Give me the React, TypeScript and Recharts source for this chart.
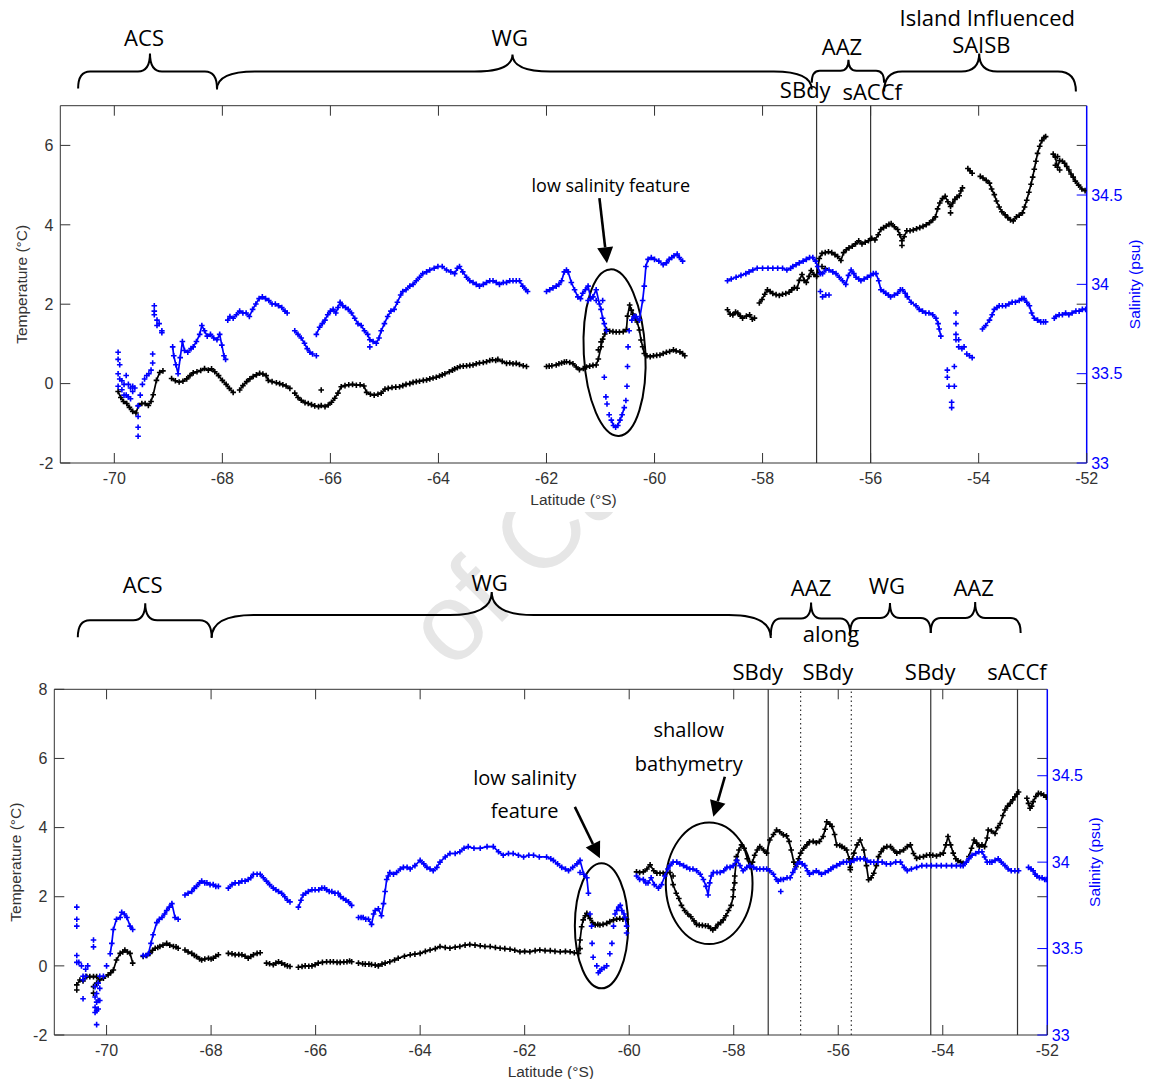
import { ScatterChart, Scatter, XAxis, YAxis, ReferenceLine, ReferenceArea, ReferenceDot } from 'recharts'

// [latitude, value] – a value array means several readings logged at that latitude
type Reading = [number, number | number[]]

type Brace = { from: number; to: number; tip: number; level: number; r: number; drop: number; rise: number }
type Note = { lat: number; t: number; text: string; size: number }
type Arrow = { from: [number, number]; to: [number, number] }
type Loop = { x1: number; x2: number; y1: number; y2: number; tilt: number }
type Front = { lat: number; dotted: boolean }

const BLUE = '#0000ff'
const INK = '#000000'
const AXIS = '#333333'
const AXIS_FONT = '"Liberation Sans", Arial, sans-serif'
const NOTE_FONT = '"Open Sans", sans-serif'

const latTicks = [-70, -68, -66, -64, -62, -60, -58, -56, -54, -52]
const upperTempTicks = [-2, 0, 2, 4, 6]
const lowerTempTicks = [-2, 0, 2, 4, 6, 8]
const salTicks = [33, 33.5, 34, 34.5]

// ---------- upper transect ----------
const upperTempRuns: Reading[][] = [
  [[-69.93, -0.2], [-69.88, -0.35], [-69.83, -0.45], [-69.77, -0.5], [-69.72, -0.6], [-69.66, -0.7], [-69.6, -0.74], [-69.55, -0.55], [-69.49, -0.5], [-69.43, -0.5], [-69.37, -0.55], [-69.32, -0.45], [-69.28, -0.28], [-69.22, 0.08], [-69.16, 0.28], [-69.1, 0.32]],
  [[-68.94, 0.13], [-68.87, 0.07], [-68.8, 0.04], [-68.73, 0.06], [-68.66, 0.12], [-68.6, 0.2], [-68.54, 0.27], [-68.47, 0.3], [-68.4, 0.33], [-68.33, 0.38], [-68.26, 0.34], [-68.2, 0.37], [-68.14, 0.3], [-68.07, 0.2], [-68.0, 0.08], [-67.93, -0.02], [-67.87, -0.12], [-67.8, -0.22]],
  [[-67.68, -0.16], [-67.62, -0.05], [-67.55, 0.05], [-67.49, 0.12], [-67.43, 0.18], [-67.37, 0.22], [-67.31, 0.26], [-67.25, 0.24], [-67.19, 0.2], [-67.15, 0.08], [-67.08, 0.05], [-67.0, 0.02], [-66.94, 0.0], [-66.88, -0.03], [-66.82, -0.06], [-66.75, -0.12]],
  [[-66.66, -0.24], [-66.6, -0.35], [-66.54, -0.42], [-66.47, -0.48], [-66.41, -0.5], [-66.35, -0.53], [-66.29, -0.56], [-66.22, -0.58], [-66.17, [-0.55, -0.16]], [-66.1, -0.58], [-66.04, -0.54], [-65.98, -0.47], [-65.92, -0.37], [-65.86, -0.24], [-65.8, -0.08], [-65.73, -0.05], [-65.66, -0.03], [-65.59, -0.02], [-65.52, -0.04], [-65.45, -0.03], [-65.38, -0.06], [-65.33, -0.22], [-65.26, -0.27], [-65.19, -0.29], [-65.12, -0.27], [-65.06, -0.24], [-64.99, -0.14], [-64.93, -0.12], [-64.86, -0.1], [-64.79, -0.09], [-64.72, -0.08], [-64.66, -0.05], [-64.6, -0.02], [-64.53, 0.0], [-64.47, 0.03], [-64.41, 0.05], [-64.35, 0.06], [-64.28, 0.08], [-64.22, 0.09], [-64.16, 0.12], [-64.1, 0.14], [-64.04, 0.16], [-63.98, 0.19], [-63.93, 0.22], [-63.88, 0.25], [-63.8, 0.3], [-63.74, 0.34], [-63.7, 0.37], [-63.65, 0.4], [-63.6, 0.43], [-63.54, 0.44], [-63.48, 0.45], [-63.42, 0.46], [-63.36, 0.47], [-63.3, 0.5], [-63.24, 0.52], [-63.17, 0.53], [-63.11, 0.55], [-63.05, 0.58], [-63.0, 0.6], [-62.94, 0.58], [-62.9, 0.61], [-62.82, 0.56], [-62.74, 0.51], [-62.68, 0.52], [-62.62, 0.5], [-62.56, 0.51], [-62.5, 0.48], [-62.43, 0.45], [-62.37, 0.43]],
  [[-62.0, 0.43], [-61.95, 0.44], [-61.9, 0.45], [-61.82, 0.47], [-61.77, 0.5], [-61.72, 0.52], [-61.67, 0.54], [-61.63, 0.55], [-61.57, 0.53], [-61.51, 0.5], [-61.45, 0.42], [-61.39, 0.35], [-61.32, 0.38], [-61.26, 0.42], [-61.2, 0.44], [-61.14, 0.46], [-61.08, 0.47], [-61.04, [0.62, 0.85]], [-60.99, [0.93, 1.05]], [-60.96, 1.12], [-60.92, 1.25], [-60.89, 1.36], [-60.83, 1.32], [-60.77, 1.31], [-60.71, 1.3], [-60.65, 1.3], [-60.58, 1.31], [-60.52, 1.36], [-60.5, 1.7], [-60.46, 1.98], [-60.43, 1.85], [-60.4, 1.75], [-60.36, 1.65], [-60.32, 1.55], [-60.28, 1.35], [-60.25, 1.1], [-60.22, 0.93], [-60.19, 0.76], [-60.14, 0.7], [-60.08, 0.68], [-60.02, 0.7], [-59.96, 0.71], [-59.9, 0.72], [-59.84, 0.76], [-59.78, 0.79], [-59.72, 0.81], [-59.65, 0.85], [-59.6, 0.82], [-59.53, 0.8], [-59.48, 0.76], [-59.44, 0.7]],
  [[-58.65, 1.86], [-58.6, 1.75], [-58.55, 1.73], [-58.5, 1.8], [-58.46, 1.78], [-58.41, 1.7], [-58.37, 1.65], [-58.3, 1.7], [-58.24, 1.73], [-58.19, 1.62], [-58.15, 1.65]],
  [[-58.06, 2.03], [-58.01, 2.12], [-57.96, 2.25], [-57.91, 2.36], [-57.86, 2.32], [-57.81, 2.27], [-57.75, 2.24], [-57.69, 2.22], [-57.63, 2.25], [-57.57, 2.27], [-57.51, 2.3], [-57.46, 2.36], [-57.41, 2.42], [-57.36, 2.4], [-57.32, 2.6], [-57.27, 2.75], [-57.23, 2.6], [-57.19, 2.55], [-57.14, 2.7], [-57.1, 2.85], [-57.05, 2.75], [-57.0, 2.7], [-56.95, [3.15, 2.8]], [-56.9, [3.28, 2.95]], [-56.84, [3.3, 2.9]], [-56.78, 3.32], [-56.72, 3.3], [-56.66, 3.25], [-56.61, 3.2], [-56.55, 3.1], [-56.5, 3.3], [-56.45, 3.37], [-56.4, 3.42], [-56.34, 3.46], [-56.28, 3.52], [-56.22, 3.6], [-56.16, 3.52], [-56.1, 3.56], [-56.04, 3.6], [-55.98, 3.66], [-55.92, 3.62], [-55.86, 3.75], [-55.81, 3.88], [-55.76, 3.93], [-55.71, 3.97], [-55.66, 4.01], [-55.62, 4.03], [-55.56, 3.95], [-55.5, 3.88], [-55.46, 3.75], [-55.42, [3.6, 3.48]], [-55.38, 3.7], [-55.33, 3.85], [-55.27, 3.85], [-55.21, 3.87], [-55.15, 3.9], [-55.09, 3.93], [-55.03, 3.96], [-54.97, 4.0], [-54.91, 4.05], [-54.85, 4.12], [-54.8, 4.2], [-54.76, 4.4], [-54.72, 4.55], [-54.67, 4.66], [-54.62, 4.72], [-54.57, 4.58], [-54.52, [4.46, 4.3]], [-54.48, 4.55], [-54.44, 4.64], [-54.4, 4.7], [-54.36, 4.73], [-54.33, 4.85], [-54.3, 4.93]],
  [[-54.2, 5.42], [-54.16, 5.36], [-54.12, 5.3]],
  [[-53.97, 5.22], [-53.92, 5.18], [-53.86, 5.12], [-53.8, 5.05], [-53.76, 4.9], [-53.71, 4.76], [-53.67, 4.6], [-53.62, 4.45], [-53.57, 4.33], [-53.51, 4.25], [-53.46, 4.18], [-53.41, 4.12], [-53.36, 4.1], [-53.3, 4.2], [-53.25, 4.24], [-53.19, 4.3], [-53.15, 4.45], [-53.11, 4.62], [-53.07, 4.82], [-53.03, 5.02], [-53.0, 5.2], [-52.97, 5.4], [-52.94, 5.6], [-52.91, 5.8], [-52.87, 5.98], [-52.83, 6.12], [-52.79, 6.2], [-52.76, 6.22]],
  [[-52.62, 5.78], [-52.58, [5.7, 5.5]], [-52.54, [5.45, 5.72]], [-52.5, [5.62, 5.38]], [-52.45, 5.6], [-52.41, 5.55], [-52.37, 5.47], [-52.33, 5.38], [-52.29, 5.28], [-52.25, 5.2], [-52.21, 5.1], [-52.15, 5.0], [-52.09, 4.9], [-52.03, 4.86]],
]

const upperSalRuns: Reading[][] = [
  [[-68.92, 33.65], [-68.9, 33.6], [-68.86, 33.55], [-68.82, 33.5], [-68.78, 33.59], [-68.74, 33.68], [-68.7, 33.63], [-68.64, 33.62], [-68.58, 33.64], [-68.54, 33.65], [-68.48, 33.68], [-68.42, 33.72], [-68.38, 33.77], [-68.33, 33.74], [-68.28, 33.71], [-68.22, 33.72], [-68.16, 33.7], [-68.1, 33.69], [-68.05, 33.72], [-68.01, 33.66], [-67.97, 33.6], [-67.94, 33.58]],
  [[-67.9, 33.8], [-67.86, 33.82], [-67.8, 33.81], [-67.74, 33.83], [-67.68, 33.85], [-67.62, 33.84], [-67.56, 33.84], [-67.5, 33.82], [-67.44, 33.86], [-67.38, 33.89], [-67.32, 33.92], [-67.26, 33.93], [-67.2, 33.92], [-67.14, 33.91], [-67.08, 33.89], [-67.02, 33.89], [-66.96, 33.88], [-66.9, 33.87], [-66.84, 33.85], [-66.8, 33.84]],
  [[-66.66, 33.74], [-66.6, 33.72], [-66.54, 33.7], [-66.48, 33.67], [-66.43, 33.64], [-66.38, 33.62], [-66.33, 33.61]],
  [[-66.26, 33.72], [-66.2, 33.76], [-66.15, 33.78], [-66.1, 33.8], [-66.05, 33.83], [-66.0, 33.85], [-65.95, 33.86], [-65.9, 33.84], [-65.86, 33.87], [-65.82, 33.9], [-65.77, 33.88], [-65.72, 33.87], [-65.67, 33.86], [-65.61, 33.84], [-65.55, 33.81], [-65.49, 33.78], [-65.43, 33.77], [-65.37, 33.74], [-65.31, 33.72], [-65.27, [33.69, 33.65]], [-65.21, 33.68], [-65.15, 33.67], [-65.1, 33.7], [-65.06, 33.74], [-65.0, 33.78], [-64.94, 33.82], [-64.88, 33.85], [-64.82, 33.86], [-64.76, 33.9], [-64.7, 33.94], [-64.66, 33.96], [-64.6, 33.97], [-64.53, 33.99], [-64.47, 34.0], [-64.41, 34.02], [-64.35, 34.04], [-64.29, 34.06], [-64.22, 34.07], [-64.16, 34.08], [-64.08, 34.09], [-64.01, 34.1], [-63.93, 34.1], [-63.85, 34.08], [-63.77, 34.07], [-63.7, 34.06], [-63.65, 34.09], [-63.61, 34.1], [-63.55, 34.07], [-63.48, 34.04], [-63.42, 34.02], [-63.36, 34.01], [-63.3, 34.0], [-63.24, 33.99], [-63.17, 34.0], [-63.11, 34.01], [-63.05, 34.02], [-62.99, 34.02], [-62.93, 34.01], [-62.87, 34.0], [-62.8, 34.01], [-62.74, 34.01], [-62.68, 34.02], [-62.62, 34.02], [-62.56, 34.02], [-62.5, 34.02], [-62.44, 33.99], [-62.38, 33.97], [-62.35, 33.96]],
  [[-62.0, 33.96], [-61.94, 33.97], [-61.88, 33.98], [-61.82, 33.99], [-61.77, 34.0], [-61.72, 34.02], [-61.67, 34.07], [-61.63, 34.08], [-61.6, 34.07], [-61.54, 34.01], [-61.48, 33.97], [-61.42, 33.93], [-61.37, 33.92], [-61.33, 33.95], [-61.28, 33.97], [-61.23, [33.99, 33.91]], [-61.18, 33.92], [-61.14, 33.93], [-61.08, [33.97, 33.91]], [-61.02, 33.89], [-60.99, 33.86], [-60.96, [33.81, 33.91]], [-60.93, 33.78], [-60.89, 33.74]],
  [[-60.8, 33.24], [-60.76, 33.21], [-60.72, 33.2], [-60.68, 33.21], [-60.64, 33.24], [-60.6, 33.27], [-60.56, 33.31]],
  [[-60.42, 33.8], [-60.38, 33.82], [-60.34, 33.82], [-60.28, 33.8], [-60.22, 33.91], [-60.19, 33.99], [-60.16, 34.1], [-60.12, 34.14], [-60.06, 34.15], [-60.0, 34.14], [-59.92, 34.13], [-59.84, 34.11], [-59.78, 34.12], [-59.73, 34.14], [-59.68, 34.15], [-59.64, 34.16], [-59.58, 34.17], [-59.54, 34.15], [-59.48, 34.13]],
  [[-58.65, 34.02], [-58.58, 34.03], [-58.49, 34.04], [-58.4, 34.05], [-58.31, 34.06], [-58.25, 34.07], [-58.18, 34.08], [-58.1, 34.09], [-58.0, 34.09], [-57.9, 34.09], [-57.81, 34.09], [-57.72, 34.09], [-57.63, 34.09], [-57.55, 34.08], [-57.48, 34.09], [-57.44, 34.1], [-57.38, 34.11], [-57.32, 34.12], [-57.25, 34.13], [-57.19, 34.14], [-57.13, 34.15], [-57.07, 34.15], [-57.02, 34.13], [-56.98, 34.1], [-56.93, [34.06, 33.96]], [-56.89, [34.06, 33.93]], [-56.83, [34.08, 33.94]], [-56.77, [34.08, 33.94]], [-56.7, 34.07], [-56.64, 34.06], [-56.58, 34.04], [-56.52, 34.02], [-56.46, 34.0], [-56.41, 34.05], [-56.36, 34.08], [-56.31, 34.06], [-56.27, 34.04], [-56.22, 34.03], [-56.18, 34.02], [-56.12, 34.03], [-56.06, 34.04], [-56.0, 34.05], [-55.95, 34.06], [-55.9, 34.06], [-55.85, 34.02], [-55.81, 33.97], [-55.76, 33.96], [-55.72, 33.95], [-55.67, 33.94], [-55.63, 33.93], [-55.56, 33.94], [-55.5, 33.95], [-55.45, 33.97], [-55.41, 33.97], [-55.36, 33.95], [-55.32, 33.93], [-55.25, 33.9], [-55.16, 33.88], [-55.1, 33.86], [-55.04, 33.85], [-54.98, 33.84], [-54.92, 33.84], [-54.85, 33.83], [-54.79, 33.81], [-54.75, 33.78], [-54.73, 33.75], [-54.7, 33.71]],
  [[-53.93, 33.75], [-53.87, 33.77], [-53.8, 33.8], [-53.75, 33.83], [-53.71, 33.86], [-53.66, 33.87], [-53.62, 33.88], [-53.56, 33.88], [-53.5, 33.88], [-53.44, 33.89], [-53.38, 33.9], [-53.32, 33.9], [-53.25, 33.91], [-53.2, 33.92], [-53.16, 33.92], [-53.11, 33.9], [-53.06, 33.88], [-53.02, 33.84], [-52.97, 33.81], [-52.91, 33.8], [-52.85, 33.79], [-52.8, 33.79], [-52.76, 33.79]],
  [[-52.6, 33.81], [-52.57, 33.82], [-52.51, 33.83], [-52.45, 33.83], [-52.39, 33.84], [-52.33, 33.83], [-52.27, 33.84], [-52.2, 33.85], [-52.14, 33.85], [-52.08, 33.86], [-52.02, 33.86]],
]

const upperSalDots: Reading[] = [
  [-69.93, [33.62, 33.58, 33.5, 33.43]], [-69.9, [33.55, 33.47]], [-69.86, [33.46, 33.41]], [-69.82, [33.44, 33.38]], [-69.78, [33.49, 33.38]], [-69.74, [33.44, 33.37]], [-69.7, [33.42, 33.36]], [-69.66, [33.43, 33.4]], [-69.62, 33.42], [-69.56, [33.32, 33.26, 33.2, 33.15]], [-69.52, 33.38], [-69.48, 33.44], [-69.44, 33.47], [-69.4, 33.49], [-69.36, 33.5], [-69.32, 33.52], [-69.29, [33.61, 33.56]], [-69.26, [33.88, 33.85, 33.83]], [-69.21, [33.8, 33.77]], [-69.17, 33.78], [-69.12, [33.74, 33.73]],
  [-66.26, 33.6],
  [-60.93, 33.48], [-60.9, 33.37], [-60.88, 33.33], [-60.84, 33.27], [-60.53, 33.35], [-60.51, 33.43], [-60.5, 33.54], [-60.49, 33.65], [-60.47, 33.74],
  [-54.58, [33.52, 33.48]], [-54.55, 33.43], [-54.5, [33.34, 33.31]], [-54.45, [33.54, 33.43]], [-54.42, [33.84, 33.78, 33.72, 33.69]], [-54.37, [33.69, 33.65]], [-54.31, 33.64], [-54.27, 33.65], [-54.22, 33.61], [-54.17, 33.6], [-54.12, 33.59],
]

const upperFronts: Front[] = [
  { lat: -57.0, dotted: false },
  { lat: -56.0, dotted: false },
]

const upperBraces: Brace[] = [
  { from: -70.67, to: -68.1, tip: -69.34, level: 7.86, r: 12, drop: 17, rise: 18 },
  { from: -68.1, to: -57.09, tip: -62.63, level: 7.86, r: 38, drop: 18, rise: 17 },
  { from: -57.09, to: -55.75, tip: -56.41, level: 7.88, r: 8, drop: 12, rise: 11 },
  { from: -55.75, to: -52.2, tip: -53.99, level: 7.86, r: 18, drop: 20, rise: 18 },
]

const upperNotes: Note[] = [
  { lat: -69.45, t: 8.5, text: 'ACS', size: 22 },
  { lat: -62.68, t: 8.5, text: 'WG', size: 22 },
  { lat: -56.53, t: 8.28, text: 'AAZ', size: 22 },
  { lat: -53.84, t: 9.02, text: 'Island Influenced', size: 22 },
  { lat: -53.95, t: 8.33, text: 'SAISB', size: 22 },
  { lat: -57.21, t: 7.19, text: 'SBdy', size: 22 },
  { lat: -55.97, t: 7.14, text: 'sACCf', size: 22 },
  { lat: -60.81, t: 4.83, text: 'low salinity feature', size: 18 },
]

const upperArrows: Arrow[] = [{ from: [-61.02, 4.67], to: [-60.88, 3.03] }]
const upperLoops: Loop[] = [{ x1: -61.31, x2: -60.17, y1: 2.88, y2: -1.32, tilt: -3 }]

// ---------- lower transect ----------
const lowerTempRuns: Reading[][] = [
  [[-70.57, [-0.55, -0.7]], [-70.51, -0.41], [-70.45, -0.44], [-70.38, -0.31], [-70.32, -0.31], [-70.25, [-0.31, -0.6, -0.79]], [-70.19, [-0.31, -0.5]], [-70.13, -0.41], [-70.06, -0.36], [-69.97, -0.26], [-69.92, -0.2], [-69.87, -0.12], [-69.81, 0.17], [-69.74, 0.36], [-69.69, 0.4], [-69.65, 0.46], [-69.6, 0.4], [-69.55, 0.36], [-69.5, 0.08]],
  [[-69.3, 0.27], [-69.23, 0.3], [-69.17, 0.36], [-69.12, 0.45], [-69.07, 0.51], [-69.02, 0.53], [-68.98, 0.56], [-68.92, 0.6], [-68.85, 0.65], [-68.79, 0.6], [-68.72, 0.56], [-68.67, 0.55], [-68.63, 0.51]],
  [[-68.5, 0.46], [-68.44, 0.4], [-68.37, 0.36], [-68.32, 0.3], [-68.28, 0.27], [-68.22, 0.2], [-68.18, 0.17], [-68.12, 0.2], [-68.05, 0.22], [-68.0, 0.2], [-67.96, 0.22], [-67.91, 0.28], [-67.86, 0.32]],
  [[-67.67, 0.36], [-67.6, 0.35], [-67.54, 0.32], [-67.47, 0.33], [-67.41, 0.32], [-67.35, 0.28], [-67.29, 0.22], [-67.24, 0.27], [-67.19, 0.32], [-67.12, 0.36], [-67.06, 0.38]],
  [[-66.94, 0.08], [-66.88, 0.06], [-66.81, 0.03], [-66.76, 0.08], [-66.71, 0.12], [-66.65, 0.08], [-66.59, 0.03], [-66.54, 0.0], [-66.49, -0.02]],
  [[-66.33, -0.04], [-66.26, -0.02], [-66.2, 0.0], [-66.13, -0.01], [-66.07, 0.0], [-66.01, 0.03], [-65.95, 0.08], [-65.87, 0.1], [-65.79, 0.12], [-65.72, 0.12], [-65.66, 0.12], [-65.59, 0.1], [-65.53, 0.1], [-65.46, 0.11], [-65.4, 0.12], [-65.35, 0.14], [-65.31, 0.12]],
  [[-65.18, 0.08], [-65.1, 0.06], [-65.05, 0.05], [-64.98, 0.05], [-64.93, 0.04], [-64.86, 0.02], [-64.8, 0.0], [-64.73, 0.05], [-64.67, 0.08], [-64.58, 0.12], [-64.49, 0.17], [-64.42, 0.22], [-64.3, 0.28], [-64.19, 0.32], [-64.1, 0.34], [-64.0, 0.36], [-63.9, 0.42], [-63.81, 0.46], [-63.71, 0.5], [-63.62, 0.56], [-63.52, 0.53], [-63.43, 0.51], [-63.33, 0.54], [-63.24, 0.56], [-63.14, 0.6], [-63.05, 0.62], [-62.95, 0.6], [-62.85, 0.58], [-62.76, 0.56], [-62.66, 0.56], [-62.56, 0.53], [-62.47, 0.51], [-62.38, 0.5], [-62.28, 0.48], [-62.19, 0.45], [-62.09, 0.41], [-62.0, 0.42], [-61.9, 0.41], [-61.8, 0.44], [-61.71, 0.46], [-61.61, 0.44], [-61.51, 0.44], [-61.42, 0.42], [-61.32, 0.41], [-61.22, 0.42], [-61.13, 0.41], [-61.05, 0.38], [-60.97, 0.36], [-60.94, [0.75, 0.5]], [-60.91, 1.13], [-60.88, 1.33], [-60.84, 1.45], [-60.81, 1.52], [-60.78, 1.45], [-60.75, 1.37], [-60.7, 1.25], [-60.65, 1.18], [-60.6, 1.2], [-60.56, 1.18], [-60.5, 1.2], [-60.43, 1.23], [-60.37, 1.28], [-60.3, 1.33], [-60.24, 1.35], [-60.18, 1.37], [-60.12, 1.35], [-60.05, 1.35]],
  [[-59.86, 2.72], [-59.8, 2.7], [-59.73, 2.72], [-59.66, 2.8], [-59.6, 2.92], [-59.53, 2.75], [-59.47, 2.68], [-59.41, 2.68], [-59.35, 2.68], [-59.28, 2.7], [-59.22, 2.7], [-59.16, [2.35, 2.6]], [-59.1, 2.1], [-59.05, 1.95], [-59.0, 1.75], [-58.94, 1.6], [-58.88, 1.5], [-58.82, 1.42], [-58.76, 1.3], [-58.71, 1.2], [-58.66, 1.18], [-58.6, 1.17], [-58.54, 1.16], [-58.49, 1.15], [-58.44, 1.08], [-58.4, 1.04], [-58.35, 1.1], [-58.3, 1.2], [-58.25, 1.25], [-58.2, 1.33], [-58.15, 1.45], [-58.1, 1.6], [-58.05, 1.75], [-58.01, [2.0, 2.2]], [-57.98, [2.6, 2.4]], [-57.95, [3.05, 3.16]], [-57.9, 3.35], [-57.85, 3.5], [-57.8, 3.4], [-57.74, 3.1], [-57.69, 2.87], [-57.64, 3.0], [-57.6, 3.2], [-57.55, 3.35], [-57.5, 3.45], [-57.43, 3.35], [-57.37, 3.26], [-57.31, 3.64], [-57.24, 3.8], [-57.18, 3.93], [-57.12, 3.88], [-57.05, 3.79], [-56.99, 3.76], [-56.94, 3.6], [-56.9, 3.35], [-56.85, 3.0], [-56.81, 2.87], [-56.76, 3.1], [-56.72, 3.26], [-56.66, 3.4], [-56.6, 3.5], [-56.55, 3.59], [-56.48, 3.6], [-56.42, 3.56], [-56.36, 3.6], [-56.29, 3.74], [-56.25, 3.95], [-56.22, 4.17], [-56.16, 4.1], [-56.12, 4.03], [-56.07, 3.8], [-56.03, 3.5], [-55.97, 3.48], [-55.93, 3.45], [-55.88, 3.4], [-55.84, 3.35], [-55.79, 3.1], [-55.77, [2.85, 2.78]], [-55.73, 3.1], [-55.7, 3.26], [-55.64, 3.5], [-55.58, 3.64], [-55.51, 3.35], [-55.46, 2.9], [-55.42, 2.49], [-55.37, 2.55], [-55.32, 2.68], [-55.27, 2.9], [-55.23, 3.16], [-55.18, 3.3], [-55.13, 3.4], [-55.07, 3.45], [-55.0, 3.45], [-54.94, 3.35], [-54.88, 3.26], [-54.82, 3.3], [-54.75, 3.35], [-54.68, 3.45], [-54.62, 3.5], [-54.56, 3.25], [-54.5, 3.11], [-54.44, 3.14], [-54.37, 3.16], [-54.31, 3.2], [-54.25, 3.21], [-54.19, 3.2], [-54.12, 3.18], [-54.05, 3.22], [-53.99, 3.26], [-53.94, 3.5], [-53.9, 3.74], [-53.85, 3.5], [-53.8, 3.26], [-53.75, 3.1], [-53.71, 3.04], [-53.66, 3.0], [-53.61, 2.97]],
  [[-53.5, 3.16], [-53.45, 3.4], [-53.4, 3.64], [-53.35, 3.55], [-53.3, 3.45], [-53.25, 3.5], [-53.2, 3.45], [-53.15, 3.7], [-53.13, 3.93], [-53.07, 3.9], [-53.0, 3.83], [-52.95, 4.0], [-52.9, 4.12], [-52.85, 4.35], [-52.81, 4.51], [-52.76, 4.62], [-52.71, 4.7], [-52.66, 4.8], [-52.62, 4.89], [-52.58, 4.97], [-52.55, 5.03]],
  [[-52.39, 4.85], [-52.36, 4.7], [-52.33, 4.56], [-52.3, 4.62], [-52.27, 4.75], [-52.22, 4.9], [-52.17, 4.99], [-52.12, 4.98], [-52.07, 4.94], [-52.02, 4.88]],
]

const lowerSalRuns: Reading[][] = [
  [[-69.93, 33.47], [-69.9, 33.53], [-69.87, 33.61], [-69.81, 33.67], [-69.74, 33.68], [-69.71, 33.71], [-69.66, 33.7], [-69.61, 33.68], [-69.55, 33.63], [-69.5, 33.61]],
  [[-69.3, 33.46], [-69.25, 33.46], [-69.2, 33.47], [-69.15, 33.53], [-69.11, 33.58], [-69.04, 33.65], [-68.99, 33.67], [-68.94, 33.68], [-68.89, 33.7], [-68.85, 33.72], [-68.8, 33.74], [-68.75, 33.76], [-68.69, 33.68], [-68.63, 33.67]],
  [[-68.5, 33.81], [-68.44, 33.82], [-68.37, 33.83], [-68.32, 33.85], [-68.28, 33.86], [-68.22, 33.88], [-68.18, 33.89], [-68.12, 33.88], [-68.08, 33.88], [-68.02, 33.87], [-67.96, 33.87], [-67.91, 33.86], [-67.86, 33.86]],
  [[-67.67, 33.85], [-67.6, 33.87], [-67.54, 33.88], [-67.47, 33.88], [-67.41, 33.89], [-67.35, 33.89], [-67.29, 33.9], [-67.24, 33.91], [-67.19, 33.93], [-67.12, 33.93], [-67.06, 33.93], [-67.0, 33.91], [-66.94, 33.89], [-66.88, 33.87], [-66.81, 33.85], [-66.76, 33.84], [-66.71, 33.83], [-66.65, 33.82], [-66.59, 33.8], [-66.54, 33.78], [-66.49, 33.77]],
  [[-66.33, 33.74], [-66.28, 33.78], [-66.24, 33.81], [-66.19, 33.82], [-66.14, 33.83], [-66.07, 33.84], [-66.01, 33.84], [-65.94, 33.84], [-65.88, 33.85], [-65.83, 33.85], [-65.79, 33.84], [-65.74, 33.83], [-65.69, 33.83], [-65.63, 33.82], [-65.57, 33.82], [-65.52, 33.8], [-65.47, 33.79], [-65.42, 33.78], [-65.37, 33.77], [-65.31, 33.75]],
  [[-65.18, 33.68], [-65.13, 33.68], [-65.09, 33.68], [-65.04, 33.67], [-64.99, 33.67], [-64.93, 33.64], [-64.89, 33.7], [-64.86, 33.72], [-64.8, 33.73], [-64.74, 33.69], [-64.7, 33.76], [-64.67, 33.83], [-64.64, 33.9], [-64.61, 33.92], [-64.58, 33.94], [-64.51, 33.93], [-64.45, 33.94], [-64.38, 33.96], [-64.32, 33.97], [-64.25, 33.97], [-64.19, 33.96], [-64.1, 33.98], [-64.0, 34.01], [-63.93, 33.99], [-63.87, 33.97], [-63.81, 33.96], [-63.75, 33.95], [-63.68, 33.97], [-63.62, 34.0], [-63.52, 34.03], [-63.43, 34.05], [-63.33, 34.05], [-63.24, 34.06], [-63.16, 34.08], [-63.08, 34.09], [-62.97, 34.08], [-62.85, 34.08], [-62.72, 34.09], [-62.6, 34.09], [-62.5, 34.06], [-62.41, 34.04], [-62.31, 34.05], [-62.22, 34.05], [-62.12, 34.04], [-62.02, 34.03], [-61.92, 34.04], [-61.83, 34.04], [-61.72, 34.03], [-61.58, 34.03], [-61.5, 34.02], [-61.45, 34.01], [-61.37, 33.99], [-61.29, 33.97], [-61.22, 33.96], [-61.16, 33.95], [-61.08, 33.97], [-61.0, 33.99], [-60.94, [34.01, 33.94]], [-60.87, 33.93], [-60.81, 33.91], [-60.78, 33.82]],
  [[-60.24, 33.72], [-60.2, 33.74], [-60.17, 33.75], [-60.14, 33.72], [-60.1, 33.7], [-60.08, 33.68], [-60.05, [33.63, 33.59]]],
  [[-59.86, 33.92], [-59.8, 33.9], [-59.73, 33.9], [-59.68, 33.88], [-59.64, 33.88], [-59.58, 33.91], [-59.52, 33.87], [-59.44, 33.85], [-59.38, 33.87], [-59.32, 33.92], [-59.26, 33.96], [-59.22, 33.98], [-59.16, 34.0], [-59.09, 34.0], [-59.03, 33.99], [-58.96, 33.98], [-58.9, 33.97], [-58.84, 33.96], [-58.78, 33.96], [-58.71, 33.95], [-58.64, 33.93], [-58.58, 33.9], [-58.53, 33.86], [-58.49, 33.81], [-58.46, 33.88], [-58.43, 33.92], [-58.39, 33.94], [-58.32, 33.94], [-58.26, 33.94], [-58.19, 33.95], [-58.13, 33.97], [-58.07, 33.97], [-58.01, 33.98], [-57.94, 34.01], [-57.88, 33.98], [-57.82, 33.95], [-57.75, 33.97], [-57.69, 33.98], [-57.62, 33.97], [-57.56, 33.96], [-57.5, 33.96], [-57.43, 33.96], [-57.37, 33.96], [-57.31, 33.95], [-57.24, 33.93], [-57.18, 33.9], [-57.15, 33.89], [-57.1, 33.9], [-57.05, 33.9], [-56.98, 33.91], [-56.92, 33.91], [-56.87, 33.94], [-56.83, 33.96], [-56.78, 33.99], [-56.74, 34.0], [-56.69, 33.99], [-56.64, 33.98], [-56.59, 33.95], [-56.55, 33.93], [-56.48, 33.94], [-56.42, 33.95], [-56.37, 33.94], [-56.32, 33.93], [-56.25, 33.94], [-56.19, 33.95], [-56.14, 33.96], [-56.1, 33.97], [-56.03, 33.98], [-55.97, 33.99], [-55.9, 34.0], [-55.84, 34.0], [-55.77, 34.0], [-55.7, 34.01], [-55.64, 34.02], [-55.58, 34.02], [-55.51, 34.02], [-55.45, 34.01], [-55.38, 34.0], [-55.32, 34.0], [-55.24, 34.0], [-55.16, 34.0], [-55.08, 33.99], [-55.0, 33.99], [-54.9, 34.0], [-54.81, 34.0], [-54.74, 33.97], [-54.68, 33.95], [-54.6, 33.96], [-54.5, 33.97], [-54.4, 33.98], [-54.31, 33.98], [-54.22, 33.98], [-54.12, 33.98], [-54.03, 33.98], [-53.93, 33.98], [-53.83, 33.98], [-53.74, 33.98], [-53.66, 33.98], [-53.61, 33.98], [-53.55, 34.0], [-53.5, 34.02], [-53.44, 34.04], [-53.37, 34.05], [-53.31, 34.06], [-53.25, 34.06], [-53.2, 34.03], [-53.15, 34.0], [-53.1, 34.0], [-53.06, 34.0], [-53.0, 34.01], [-52.94, 34.02], [-52.88, 34.0], [-52.81, 33.98], [-52.75, 33.96], [-52.69, 33.95], [-52.62, 33.95], [-52.55, 33.95]],
  [[-52.36, 33.97], [-52.31, 33.96], [-52.27, 33.95], [-52.23, 33.93], [-52.2, 33.92], [-52.15, 33.91], [-52.1, 33.91], [-52.05, 33.9], [-52.02, 33.9]],
]

const lowerSalDots: Reading[] = [
  [-70.57, [33.74, 33.67, 33.63, 33.46, 33.42]], [-70.53, 33.42], [-70.48, 33.4], [-70.45, [33.34, 33.32, 33.21]], [-70.4, [33.38, 33.34]], [-70.36, 33.4], [-70.25, [33.55, 33.51]], [-70.22, [33.28, 33.22, 33.16, 33.13]], [-70.19, [33.24, 33.19, 33.14, 33.06]], [-70.16, [33.3, 33.2, 33.15]], [-70.13, [33.34, 33.27, 33.2]], [-70.06, 33.34], [-70.0, 33.4],
  [-60.75, 33.7], [-60.72, 33.63], [-60.71, 33.53], [-60.69, 33.45], [-60.62, 33.4], [-60.59, 33.36], [-60.56, 33.37], [-60.53, 33.38], [-60.48, 33.39], [-60.43, 33.4], [-60.37, 33.47], [-60.33, 33.53], [-60.3, 33.63], [-60.27, 33.7],
  [-57.1, 33.83],
]

const lowerFronts: Front[] = [
  { lat: -57.34, dotted: false },
  { lat: -56.72, dotted: true },
  { lat: -55.75, dotted: true },
  { lat: -54.23, dotted: false },
  { lat: -52.57, dotted: false },
]

const lowerBraces: Brace[] = [
  { from: -70.55, to: -67.99, tip: -69.26, level: 10.0, r: 12, drop: 17, rise: 17 },
  { from: -67.99, to: -57.29, tip: -62.63, level: 10.15, r: 42, drop: 23, rise: 23 },
  { from: -57.29, to: -55.77, tip: -56.52, level: 10.05, r: 10, drop: 17, rise: 16 },
  { from: -55.77, to: -54.23, tip: -55.01, level: 10.06, r: 10, drop: 15, rise: 15 },
  { from: -54.23, to: -52.51, tip: -53.38, level: 10.06, r: 10, drop: 15, rise: 16 },
]

const lowerNotes: Note[] = [
  { lat: -69.31, t: 10.78, text: 'ACS', size: 22 },
  { lat: -62.67, t: 10.83, text: 'WG', size: 22 },
  { lat: -56.52, t: 10.7, text: 'AAZ', size: 22 },
  { lat: -55.07, t: 10.76, text: 'WG', size: 22 },
  { lat: -53.41, t: 10.7, text: 'AAZ', size: 22 },
  { lat: -56.14, t: 9.38, text: 'along', size: 22 },
  { lat: -57.54, t: 8.27, text: 'SBdy', size: 22 },
  { lat: -56.2, t: 8.27, text: 'SBdy', size: 22 },
  { lat: -54.24, t: 8.27, text: 'SBdy', size: 22 },
  { lat: -52.58, t: 8.27, text: 'sACCf', size: 22 },
  { lat: -62.0, t: 5.23, text: 'low salinity', size: 20 },
  { lat: -62.0, t: 4.27, text: 'feature', size: 20 },
  { lat: -58.86, t: 6.61, text: 'shallow', size: 20 },
  { lat: -58.86, t: 5.65, text: 'bathymetry', size: 20 },
]

const lowerArrows: Arrow[] = [
  { from: [-61.04, 4.6], to: [-60.56, 3.11] },
  { from: [-58.17, 5.47], to: [-58.39, 4.31] },
]
const lowerLoops: Loop[] = [
  { x1: -61.04, x2: -60.02, y1: 2.97, y2: -0.65, tilt: 0 },
  { x1: -59.3, x2: -57.64, y1: 4.15, y2: 0.63, tilt: 0 },
]

// ---------- helpers ----------
type Pt = { lat: number; v: number }

// first reading at each latitude carries the trace line, the rest are plotted as loose marks
function primary(rows: Reading[]): Pt[] {
  return rows.map(([lat, v]) => ({ lat, v: Array.isArray(v) ? v[0] : v }))
}

function extras(rows: Reading[]): Pt[] {
  const out: Pt[] = []
  rows.forEach(([lat, v]) => {
    if (Array.isArray(v)) v.slice(1).forEach((val) => out.push({ lat, v: val }))
  })
  return out
}

function allPoints(rows: Reading[]): Pt[] {
  const out: Pt[] = []
  rows.forEach(([lat, v]) => {
    ;(Array.isArray(v) ? v : [v]).forEach((val) => out.push({ lat, v: val }))
  })
  return out
}

const plusMark = (color: string) => (p: any) => {
  const { cx, cy } = p
  if (cx == null || cy == null) return <g />
  return <path d={`M${cx - 2.8},${cy}H${cx + 2.8}M${cx},${cy - 2.8}V${cy + 2.8}`} stroke={color} strokeWidth={1.6} fill="none" />
}

const braceShape = (b: Brace) => (p: any) => {
  const { x1, x2, y1: y } = p
  const xt = x1 + (x2 - x1) * ((b.tip - b.from) / (b.to - b.from))
  const { r, drop, rise } = b
  const d =
    `M${x1},${y + drop} Q${x1},${y} ${x1 + r},${y} L${xt - r},${y} Q${xt},${y} ${xt},${y - rise} ` +
    `Q${xt},${y} ${xt + r},${y} L${x2 - r},${y} Q${x2},${y} ${x2},${y + drop}`
  return <path d={d} fill="none" stroke={INK} strokeWidth={2} />
}

const noteShape = (n: Note) => (p: any) => (
  <text x={p.cx} y={p.cy} textAnchor="middle" fontFamily={NOTE_FONT} fontSize={n.size} fill={INK}>
    {n.text}
  </text>
)

const arrowShape = (p: any) => {
  const { x1, y1, x2, y2 } = p
  const len = Math.hypot(x2 - x1, y2 - y1) || 1
  const ux = (x2 - x1) / len
  const uy = (y2 - y1) / len
  const head = 16
  const half = 8
  const bx = x2 - ux * head
  const by = y2 - uy * head
  return (
    <g>
      <line x1={x1} y1={y1} x2={bx} y2={by} stroke={INK} strokeWidth={2.6} />
      <path d={`M${x2},${y2}L${bx - uy * half},${by + ux * half}L${bx + uy * half},${by - ux * half}Z`} fill={INK} />
    </g>
  )
}

const loopShape = (tilt: number) => (p: any) => {
  const cx = p.x + p.width / 2
  const cy = p.y + p.height / 2
  return (
    <ellipse cx={cx} cy={cy} rx={Math.abs(p.width) / 2} ry={Math.abs(p.height) / 2} transform={`rotate(${tilt} ${cx} ${cy})`} fill="none" stroke={INK} strokeWidth={2} />
  )
}

// short inward tick drawn from the first end of a segment
const stub = (color: string) => (p: any) => {
  const dx = p.x2 - p.x1
  const dy = p.y2 - p.y1
  const n = Math.hypot(dx, dy) || 1
  return <line x1={p.x1} y1={p.y1} x2={p.x1 + (dx / n) * 10} y2={p.y1 + (dy / n) * 10} stroke={color} strokeWidth={1} />
}

const bottomTick = (p: any) => (
  <g>
    <line x1={p.x} y1={p.y} x2={p.x} y2={p.y - 10} stroke={AXIS} />
    <text x={p.x} y={p.y + 20.5} textAnchor="middle" fill={AXIS} fontSize={16} fontFamily={AXIS_FONT}>
      {p.payload.value}
    </text>
  </g>
)

const leftTick = (p: any) => (
  <g>
    <line x1={p.x} y1={p.y} x2={p.x + 10} y2={p.y} stroke={AXIS} />
    <text x={p.x - 7} y={p.y} dy="0.36em" textAnchor="end" fill={AXIS} fontSize={16} fontFamily={AXIS_FONT}>
      {p.payload.value}
    </text>
  </g>
)

const rightTick = (p: any) => (
  <g>
    <line x1={p.x} y1={p.y} x2={p.x - 10} y2={p.y} stroke={BLUE} />
    <text x={p.x + 4.5} y={p.y} dy="0.36em" textAnchor="start" fill={BLUE} fontSize={16} fontFamily={AXIS_FONT}>
      {p.payload.value}
    </text>
  </g>
)

const sideTitle = (text: string, color: string, side: 'left' | 'right') => (p: any) => {
  const vb = p.viewBox
  const x = side === 'left' ? vb.x + vb.width - 33.5 : vb.x + 53
  const y = vb.y + vb.height / 2
  return (
    <text x={x} y={y} transform={`rotate(-90 ${x} ${y})`} textAnchor="middle" fill={color} fontSize={15.5} fontFamily={AXIS_FONT}>
      {text}
    </text>
  )
}

const bottomTitle = (p: any) => {
  const vb = p.viewBox
  return (
    <text x={vb.x + vb.width / 2} y={vb.y + 41.5} textAnchor="middle" fill={AXIS} fontSize={15.5} fontFamily={AXIS_FONT}>
      Latitude (°S)
    </text>
  )
}

type PanelProps = {
  top: number
  height: number
  margin: { top: number; right: number; bottom: number; left: number }
  tempMax: number
  tempTicks: number[]
  tempRuns: Reading[][]
  salRuns: Reading[][]
  salDots: Reading[]
  fronts: Front[]
  braces: Brace[]
  notes: Note[]
  arrows: Arrow[]
  loops: Loop[]
}

function TransectPanel(props: PanelProps) {
  const { tempMax, tempTicks } = props
  const blackMark = plusMark(INK)
  const blueMark = plusMark(BLUE)
  const inner = tempTicks.filter((t) => t > -2 && t < tempMax)
  const tempLoose = props.tempRuns.flatMap(extras)
  const salLoose = [...props.salRuns.flatMap(extras), ...allPoints(props.salDots)]

  return (
    <div style={{ position: 'absolute', left: 0, top: props.top }}>
      <ScatterChart width={1157} height={props.height} margin={props.margin}>
        <XAxis
          type="number"
          dataKey="lat"
          domain={[-71, -52]}
          ticks={latTicks}
          interval={0}
          allowDataOverflow
          height={40}
          tickSize={0}
          tickMargin={0}
          tickLine={false}
          axisLine={{ stroke: AXIS }}
          tick={bottomTick}
          label={{ content: bottomTitle }}
        />
        <YAxis
          yAxisId="t"
          type="number"
          dataKey="v"
          domain={[-2, tempMax]}
          ticks={tempTicks}
          interval={0}
          allowDataOverflow
          width={50}
          tickSize={0}
          tickMargin={0}
          tickLine={false}
          axisLine={{ stroke: AXIS }}
          tick={leftTick}
          label={{ content: sideTitle('Temperature (°C)', AXIS, 'left') }}
        />
        <YAxis
          yAxisId="s"
          orientation="right"
          type="number"
          dataKey="v"
          domain={[33, 35]}
          ticks={salTicks}
          interval={0}
          allowDataOverflow
          width={60}
          tickSize={0}
          tickMargin={0}
          tickLine={false}
          axisLine={{ stroke: BLUE, strokeWidth: 1.5 }}
          tick={rightTick}
          label={{ content: sideTitle('Salinity (psu)', BLUE, 'right') }}
        />

        {/* box top edge and mirrored ticks */}
        <ReferenceLine yAxisId="t" y={tempMax} stroke={AXIS} ifOverflow="visible" />
        {latTicks
          .filter((l) => l > -71 && l < -52)
          .map((l) => (
            <ReferenceLine
              key={`tt${l}`}
              yAxisId="t"
              segment={[{ x: l, y: tempMax }, { x: l, y: -2 }]}
              ifOverflow="visible"
              shape={stub(AXIS)}
            />
          ))}
        {inner.map((t) => (
          <ReferenceLine
            key={`rt${t}`}
            yAxisId="t"
            segment={[{ x: -52, y: t }, { x: -71, y: t }]}
            ifOverflow="visible"
            shape={stub(AXIS)}
          />
        ))}

        {props.fronts.map((f) => (
          <ReferenceLine
            key={`f${f.lat}`}
            yAxisId="t"
            x={f.lat}
            stroke={AXIS}
            strokeWidth={1.2}
            strokeDasharray={f.dotted ? '1.5 3' : undefined}
            ifOverflow="visible"
          />
        ))}

        {props.tempRuns.map((run, i) => (
          <Scatter
            key={`t${i}`}
            data={primary(run)}
            yAxisId="t"
            shape={blackMark}
            line={{ stroke: INK, strokeWidth: 1.7 }}
            isAnimationActive={false}
          />
        ))}
        <Scatter data={tempLoose} yAxisId="t" shape={blackMark} isAnimationActive={false} />
        {props.salRuns.map((run, i) => (
          <Scatter
            key={`s${i}`}
            data={primary(run)}
            yAxisId="s"
            shape={blueMark}
            line={{ stroke: BLUE, strokeWidth: 1.7 }}
            isAnimationActive={false}
          />
        ))}
        <Scatter data={salLoose} yAxisId="s" shape={blueMark} isAnimationActive={false} />

        {props.loops.map((c, i) => (
          <ReferenceArea
            key={`c${i}`}
            yAxisId="t"
            x1={c.x1}
            x2={c.x2}
            y1={c.y1}
            y2={c.y2}
            ifOverflow="visible"
            shape={loopShape(c.tilt)}
          />
        ))}
        {props.arrows.map((a, i) => (
          <ReferenceLine
            key={`a${i}`}
            yAxisId="t"
            segment={[{ x: a.from[0], y: a.from[1] }, { x: a.to[0], y: a.to[1] }]}
            ifOverflow="visible"
            shape={arrowShape}
          />
        ))}
        {props.braces.map((b, i) => (
          <ReferenceLine
            key={`b${i}`}
            yAxisId="t"
            segment={[{ x: b.from, y: b.level }, { x: b.to, y: b.level }]}
            ifOverflow="visible"
            shape={braceShape(b)}
          />
        ))}
        {props.notes.map((n, i) => (
          <ReferenceDot key={`n${i}`} yAxisId="t" x={n.lat} y={n.t} ifOverflow="visible" shape={noteShape(n)} />
        ))}
      </ScatterChart>
    </div>
  )
}

export default function App() {
  return (
    <div style={{ position: 'absolute', left: 0, top: 0, width: 1157, height: 1079, background: '#fff', overflow: 'hidden' }}>
      {/* faint thesis watermark showing between the two panels */}
      <svg width={1157} height={1079} style={{ position: 'absolute', left: 0, top: 0 }}>
        <defs>
          <clipPath id="wm-band">
            <rect x={0} y={512} width={1157} height={150} />
          </clipPath>
        </defs>
        <g clipPath="url(#wm-band)">
          <text x={452} y={672} transform="rotate(-45 452 672)" fontSize={110} fill="#e6e6e6" fontFamily={AXIS_FONT}>
            of Ca
          </text>
        </g>
      </svg>
      <TransectPanel
        top={0}
        height={520}
        margin={{ top: 105.7, right: 10.3, bottom: 17, left: 10.3 }}
        tempMax={7}
        tempTicks={upperTempTicks}
        tempRuns={upperTempRuns}
        salRuns={upperSalRuns}
        salDots={upperSalDots}
        fronts={upperFronts}
        braces={upperBraces}
        notes={upperNotes}
        arrows={upperArrows}
        loops={upperLoops}
      />
      <TransectPanel
        top={540}
        height={539}
        margin={{ top: 149.3, right: 49.7, bottom: 4, left: 4.3 }}
        tempMax={8}
        tempTicks={lowerTempTicks}
        tempRuns={lowerTempRuns}
        salRuns={lowerSalRuns}
        salDots={lowerSalDots}
        fronts={lowerFronts}
        braces={lowerBraces}
        notes={lowerNotes}
        arrows={lowerArrows}
        loops={lowerLoops}
      />
    </div>
  )
}
